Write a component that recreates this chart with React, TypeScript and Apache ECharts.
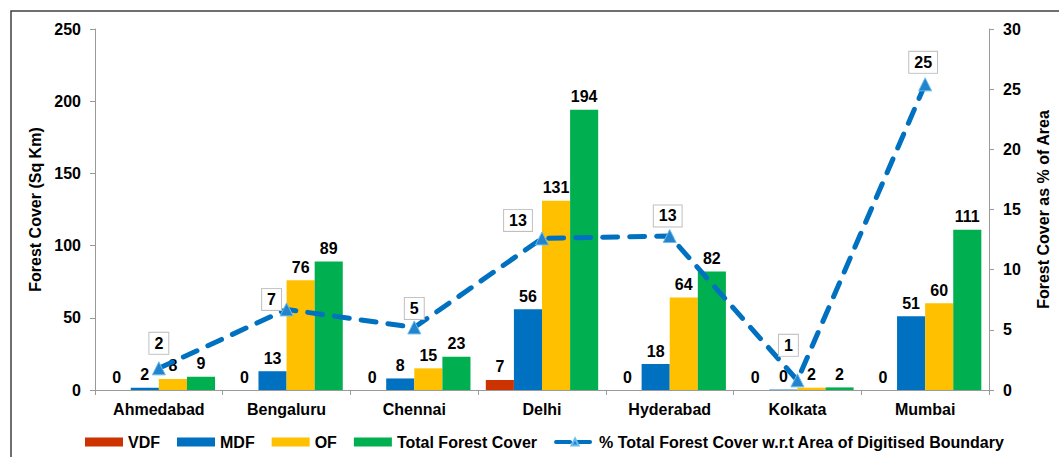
import React, { useEffect, useRef } from "react";
import * as echarts from "echarts";

const categories = ["Ahmedabad", "Bengaluru", "Chennai", "Delhi", "Hyderabad", "Kolkata", "Mumbai"];
const vdf = [0, 0, 0, 7, 0, 0, 0];
const mdf = [1.5, 13, 8, 56, 18, 0.3, 51];
const of = [7.7, 76, 15, 131, 64, 1.6, 60];
const totalForest = [9.2, 89, 23, 194, 82, 1.8, 111];
const pctTotal = [1.8, 6.7, 5.2, 12.6, 12.8, 0.8, 25.4];
const leftTicks = { min: 0, max: 250, interval: 50 };
const rightTicks = { min: 0, max: 30, interval: 5 };

const lineLabelOffsets: [number, number][] = [
  [0, -25], [-15, -10], [0, -19], [-24, -18], [-2, -20], [-9, -35], [-2, -22],
];

const FONT = "Liberation Sans, Arial, sans-serif";

export default function App() {
  const ref = useRef<HTMLDivElement>(null);
  useEffect(() => {
    if (!ref.current) return;
    const chart = echarts.init(ref.current, undefined, { renderer: "svg" });
    const barLabel = {
      show: true,
      position: "top" as const,
      distance: 5,
      fontFamily: FONT,
      fontWeight: "bold" as const,
      fontSize: 16,
      color: "#000",
      formatter: (p: any) => String(Math.round(p.value)),
    };
    const mkBar = (name: string, data: number[], color: string) => ({
      name,
      type: "bar",
      data,
      yAxisIndex: 0,
      barGap: "0%",
      barCategoryGap: "12%",
      itemStyle: { color },
      label: barLabel,
    });
    chart.setOption({
      animation: false,
      textStyle: { fontFamily: FONT },
      graphic: [
        {
          type: "rect",
          shape: { x: 11, y: 11, width: 1200, height: 600 },
          style: { fill: "none", stroke: "#404040", lineWidth: 1.5 },
          silent: true,
        },
      ],
      grid: { left: 95, right: 62, top: 29, bottom: 67 },
      legend: {
        top: 429,
        left: 80,
        itemWidth: 38,
        itemHeight: 9,
        itemGap: 17,
        textStyle: { fontFamily: FONT, fontWeight: "bold", fontSize: 16, color: "#000" },
        data: [
          { name: "VDF", icon: "rect" },
          { name: "MDF", icon: "rect" },
          { name: "OF", icon: "rect" },
          { name: "Total Forest Cover", icon: "rect" },
          {
            name: "% Total Forest Cover w.r.t Area of Digitised Boundary",
            lineStyle: { width: 4, type: [14, 6] },
          },
        ],
      },
      xAxis: {
        type: "category",
        data: categories,
        axisLine: { lineStyle: { color: "#9a9a9a", width: 1 } },
        axisTick: { show: true, length: 5, lineStyle: { color: "#9a9a9a" } },
        axisLabel: { fontFamily: FONT, fontWeight: "bold", fontSize: 16, color: "#000", margin: 11 },
      },
      yAxis: [
        {
          type: "value",
          min: leftTicks.min,
          max: leftTicks.max,
          interval: leftTicks.interval,
          name: "Forest Cover (Sq Km)",
          nameLocation: "middle",
          nameRotate: 90,
          nameGap: 47,
          nameTextStyle: { fontFamily: FONT, fontWeight: "bold", fontSize: 16, color: "#000" },
          axisLine: { show: true, lineStyle: { color: "#9a9a9a" } },
          axisTick: { show: true, length: 5, lineStyle: { color: "#9a9a9a" } },
          splitLine: { show: false },
          axisLabel: { fontFamily: FONT, fontWeight: "bold", fontSize: 16, color: "#000", margin: 14 },
        },
        {
          type: "value",
          position: "right",
          min: rightTicks.min,
          max: rightTicks.max,
          interval: rightTicks.interval,
          name: "Forest Cover as % of Area",
          nameLocation: "middle",
          nameRotate: 90,
          nameGap: 46,
          nameTextStyle: { fontFamily: FONT, fontWeight: "bold", fontSize: 16, color: "#000" },
          axisLine: { show: true, lineStyle: { color: "#9a9a9a" } },
          axisTick: { show: true, length: 5, lineStyle: { color: "#9a9a9a" } },
          splitLine: { show: false },
          axisLabel: { fontFamily: FONT, fontWeight: "bold", fontSize: 16, color: "#000", margin: 14 },
        },
      ],
      series: [
        mkBar("VDF", vdf, "#CC3300"),
        mkBar("MDF", mdf, "#0070C0"),
        mkBar("OF", of, "#FFC000"),
        mkBar("Total Forest Cover", totalForest, "#00B050"),
        {
          name: "% Total Forest Cover w.r.t Area of Digitised Boundary",
          type: "line",
          yAxisIndex: 1,
          z: 5,
          symbol: "triangle",
          symbolSize: 13,
          itemStyle: { color: "#2383CC", borderColor: "#69BDEB", borderWidth: 1 },
          lineStyle: { color: "#0070C0", width: 5, type: [15, 12], cap: "round" },
          data: pctTotal.map((v, i) => ({
            value: v,
            label: {
              show: true,
              position: "inside",
              offset: lineLabelOffsets[i],
              formatter: (p: any) => String(Math.round(p.value)),
              fontFamily: FONT,
              fontWeight: "bold",
              fontSize: 16,
              color: "#000",
              backgroundColor: "#fff",
              borderColor: "#bfbfbf",
              borderWidth: 1,
              padding: [3, 5, 2, 5],
            },
          })),
        },
      ],
    });
    return () => chart.dispose();
  }, []);
  return (
    <div
      ref={ref}
      style={{ position: "absolute", left: 0, top: 0, width: 1059, height: 457, background: "#fff" }}
    />
  );
}
